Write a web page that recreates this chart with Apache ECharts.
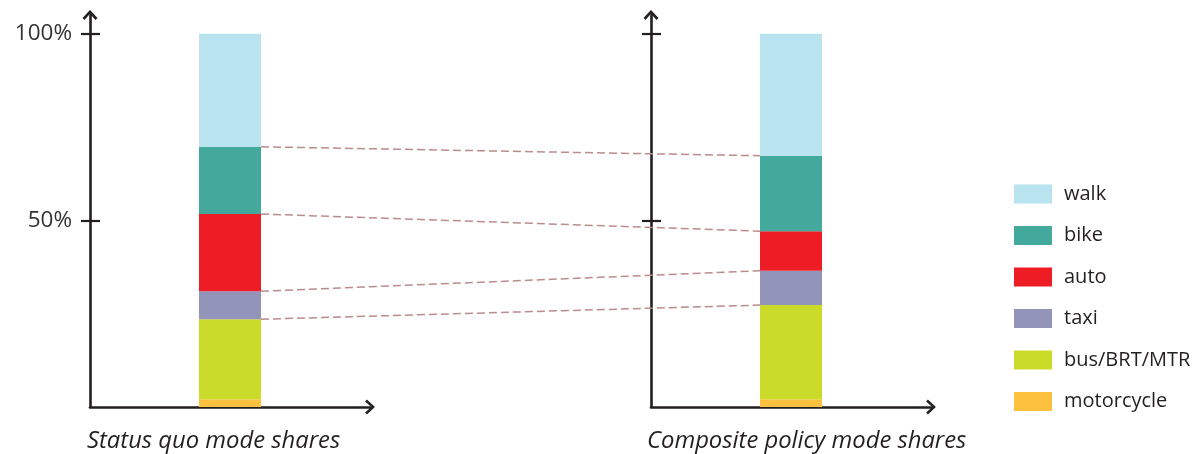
<!DOCTYPE html>
<html>
<head>
<meta charset="utf-8">
<script src="https://cdn.jsdelivr.net/npm/echarts@6/dist/echarts.min.js"></script>
<style>
html,body{margin:0;padding:0;background:#fff;}
#chart{width:1200px;height:454px;}
</style>
</head>
<body>
<div id="chart"></div>
<script>
// ---- data ----
const modes = ['motorcycle', 'bus/BRT/MTR', 'taxi', 'auto', 'bike', 'walk']; // bottom -> top
const statusQuo = [2.1, 21.4, 7.5, 20.7, 18.0, 30.3];
const composite = [2.1, 25.2, 9.2, 10.6, 20.2, 32.7];
const panelTitles = ['Status quo mode shares', 'Composite policy mode shares'];
const legendOrder = ['walk', 'bike', 'auto', 'taxi', 'bus/BRT/MTR', 'motorcycle'];
const yTickValues = [50, 100];
const yTickLabels = ['50%', '100%'];

// ---- style ----
const colors = {
  'motorcycle': '#fdc13f',
  'bus/BRT/MTR': '#cbdb2a',
  'taxi': '#9294ba',
  'auto': '#ee1c25',
  'bike': '#42a99c',
  'walk': '#b9e3ef'
};
const ink = '#231f20';
const chevron = 'path://M0 8 L7.5 0 L15 8 L13 9.8 L7.5 3.6 L2 9.8 Z';
const font = '"Open Sans", "Noto Sans", sans-serif';

const chart = echarts.init(document.getElementById('chart'), null, {renderer: 'canvas'});

const grids = [
  {left: 90, width: 280, top: 15, height: 392},
  {left: 651, width: 280, top: 15, height: 392}
];

const xAxes = panelTitles.map((t, i) => ({
  type: 'category', gridIndex: i, data: [t],
  axisLine: {show: true, symbol: ['none', chevron], symbolSize: [15, 10],
    lineStyle: {color: ink, width: 2.6}},
  offset: 2,
  axisTick: {show: false}, axisLabel: {show: false}, splitLine: {show: false}
}));

const yAxes = [];
[0, 1].forEach(i => {
  yAxes.push({
    type: 'value', gridIndex: i, position: 'left', min: 0, max: 105, interval: 50,
    axisLine: {show: true, symbol: ['none', chevron], symbolSize: [15, 10],
      lineStyle: {color: ink, width: 2.6}},
    axisTick: {show: true, inside: false, length: 9, customValues: yTickValues,
      lineStyle: {color: ink, width: 2.2}},
    axisLabel: {show: i === 0, customValues: yTickValues, margin: 18,
      formatter: v => yTickLabels[yTickValues.indexOf(v)] || '',
      color: '#333', fontSize: 22.5, fontFamily: font, padding: [3, 0, 0, 0]},
    splitLine: {show: false}
  });
  yAxes.push({
    type: 'value', gridIndex: i, position: 'left', min: 0, max: 105, interval: 50,
    axisLine: {show: false},
    axisTick: {show: true, inside: true, length: 10, customValues: yTickValues,
      lineStyle: {color: ink, width: 2.2}},
    axisLabel: {show: false}, splitLine: {show: false}
  });
});

const series = [];
[statusQuo, composite].forEach((vals, p) => {
  modes.forEach((m, k) => {
    series.push({
      name: m, type: 'bar', xAxisIndex: p, yAxisIndex: p * 2, stack: 'panel' + p,
      barWidth: 62, data: [vals[k]],
      itemStyle: {color: colors[m]}, emphasis: {disabled: true}, animation: false
    });
  });
});

chart.setOption({
  animation: false,
  grid: grids,
  xAxis: xAxes,
  yAxis: yAxes,
  series: series,
  title: panelTitles.map((t, i) => ({
    text: t, left: i === 0 ? 87 : 647, top: 429, padding: 0,
    textStyle: {fontSize: 23.8, fontStyle: 'italic', fontWeight: 'normal', color: ink, fontFamily: font}
  })),
  legend: {
    data: legendOrder, orient: 'vertical', left: 1014, top: 184, padding: 0,
    icon: 'rect', itemWidth: 38, itemHeight: 19, itemGap: 21.5,
    textStyle: {fontSize: 20, color: ink, fontFamily: font, padding: [0, 0, 0, 7], lineHeight: 19},
    selectedMode: false
  }
});

// dashed connectors between segment boundaries of the two bars
function cum(arr, n) { let s = 0; for (let i = 0; i <= n; i++) s += arr[i]; return s; }
const lines = [];
for (let k = 1; k <= 4; k++) {
  const a = chart.convertToPixel({xAxisIndex: 0, yAxisIndex: 0}, [panelTitles[0], cum(statusQuo, k)]);
  const b = chart.convertToPixel({xAxisIndex: 1, yAxisIndex: 2}, [panelTitles[1], cum(composite, k)]);
  lines.push({
    type: 'line', silent: true, z: 10,
    shape: {x1: a[0] + 31, y1: a[1], x2: b[0] - 31, y2: b[1]},
    style: {stroke: '#b98c8e', lineWidth: 1.5, lineDash: [8, 4]}
  });
}
chart.setOption({graphic: lines});
</script>
</body>
</html>
